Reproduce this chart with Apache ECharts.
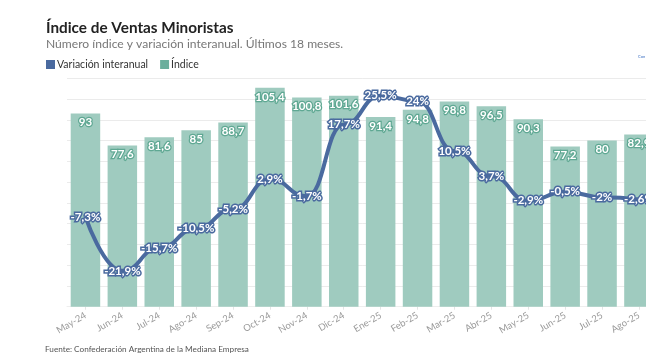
<!DOCTYPE html>
<html><head><meta charset="utf-8">
<script src="https://cdn.jsdelivr.net/npm/echarts@6/dist/echarts.min.js"></script>
<style>
html,body{margin:0;padding:0;background:#fff;}
#wrap{width:646px;height:364px;position:relative;overflow:hidden;background:#fff;}
#c{width:700px;height:364px;position:absolute;left:0;top:0;}
</style></head>
<body><div id="wrap"><div id="c"></div></div>
<script>
const categories = ["May-24","Jun-24","Jul-24","Ago-24","Sep-24","Oct-24","Nov-24","Dic-24","Ene-25","Feb-25","Mar-25","Abr-25","May-25","Jun-25","Jul-25","Ago-25"];
const indice = [93,77.6,81.6,85,88.7,105.4,100.8,101.6,91.4,94.8,98.8,96.5,90.3,77.2,80,82.9];
const variacion = [-7.3,-21.9,-15.7,-10.5,-5.2,2.9,-1.7,17.7,25.5,24,10.5,3.7,-2.9,-0.5,-2,-2.6];
const barTicks = {min:0, max:110, interval:10};
const lineRange = {min:-31.6, max:30.2};

const FONT = 'Lato';
const lineColor = '#4a6a9f';
const barColor = '#9fcbbf';
const barSwatch = '#6aae9c';
const fmt = v => String(v).replace('.', ',');

const chart = echarts.init(document.getElementById('c'), null, {renderer:'canvas'});
chart.setOption({
  animation:false,
  textStyle:{fontFamily:FONT},
  title:[
    {text:'Índice de Ventas Minoristas', left:46, top:21, padding:0, textStyle:{fontFamily:FONT, fontSize:15.3, fontWeight:'bold', color:'#222'}},
    {text:'Número índice y variación interanual. Últimos 18 meses.', left:46, top:38, padding:0, textStyle:{fontFamily:FONT, fontSize:12.1, fontWeight:'normal', color:'#777'}},
    {text:'Fuente: Confederación Argentina de la Mediana Empresa', left:45, top:345, padding:0, textStyle:{fontFamily:FONT, fontSize:8.2, fontWeight:'normal', color:'#555'}},
    {text:'Con', left:638, top:55, padding:0, textStyle:{fontFamily:FONT, fontSize:4, fontWeight:'normal', color:'#3b6fc2'}}
  ],
  legend:{
    left:46, top:59, padding:0, itemWidth:9, itemHeight:9, itemGap:12, icon:'rect',
    textStyle:{fontFamily:FONT, fontSize:10.5, color:'#333', padding:[0,0,0,-3]},
    data:[
      {name:'Variación interanual', itemStyle:{color:lineColor}},
      {name:'Índice', itemStyle:{color:barSwatch}}
    ],
    selectedMode:false
  },
  grid:{left:67, right:42.6, top:78.3, bottom:57.3, containLabel:false},
  xAxis:{
    type:'category', data:categories,
    axisLine:{show:true, lineStyle:{color:'#eeeeee', width:1}},
    axisTick:{show:true, alignWithLabel:true, length:3, lineStyle:{color:'#e4e4e4'}},
    axisLabel:{rotate:30, color:'#9a9a9a', fontSize:9.5, fontFamily:FONT, margin:8, interval:0}
  },
  yAxis:[
    {type:'value', min:barTicks.min, max:barTicks.max, interval:barTicks.interval,
     axisLabel:{show:false}, axisLine:{show:false}, axisTick:{show:false},
     splitLine:{show:true, lineStyle:{color:'#ebebeb', width:1}}},
    {type:'value', min:lineRange.min, max:lineRange.max,
     axisLabel:{show:false}, axisLine:{show:false}, axisTick:{show:false}, splitLine:{show:false}}
  ],
  series:[
    {name:'Índice', type:'bar', yAxisIndex:0, data:indice, barWidth:29.5,
     itemStyle:{color:barColor},
     label:{show:true, position:'insideTop', distance:3, formatter:p=>fmt(p.value),
       color:'#fff', fontWeight:'bold', fontSize:11.5, fontFamily:FONT,
       textBorderColor:'#5fa893', textBorderWidth:2.5}, z:2},
    {name:'Variación interanual', type:'line', yAxisIndex:1, data:variacion,
     smooth:true, smoothMonotone:'x', symbol:'circle', symbolSize:1, showSymbol:true,
     lineStyle:{color:lineColor, width:4}, itemStyle:{color:lineColor},
     label:{show:true, position:'inside', formatter:p=>fmt(p.value)+'%',
       color:'#fff', fontWeight:'bold', fontSize:11.5, fontFamily:FONT,
       textBorderColor:lineColor, textBorderWidth:3}, z:5}
  ]
});
</script></body></html>
